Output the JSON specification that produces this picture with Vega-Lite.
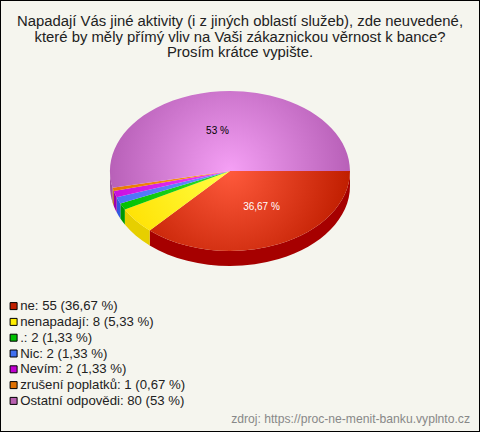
{
"$schema":"https://vega.github.io/schema/vega-lite/v6.json",
"width":480,"height":432,"padding":0,"autosize":"none","background":"#f5f5ee",
"view":{"stroke":"#000000","strokeWidth":2},
"title":{"text":["Napadají Vás jiné aktivity (i z jiných oblastí služeb), zde neuvedené,","které by měly přímý vliv na Vaši zákaznickou věrnost k bance?","Prosím krátce vypište."],"anchor":"middle","frame":"group","offset":-60,"fontSize":14.87,"lineHeight":15.5,"font":"Liberation Sans","fontWeight":"normal","color":"#222222"},
"data":{"values":[
{"odpoved":"ne","pocet":55,"podil":"36,67 %","legenda":"ne: 55 (36,67 %)"},
{"odpoved":"nenapadají","pocet":8,"podil":"5,33 %","legenda":"nenapadají: 8 (5,33 %)"},
{"odpoved":".","pocet":2,"podil":"1,33 %","legenda":".: 2 (1,33 %)"},
{"odpoved":"Nic","pocet":2,"podil":"1,33 %","legenda":"Nic: 2 (1,33 %)"},
{"odpoved":"Nevím","pocet":2,"podil":"1,33 %","legenda":"Nevím: 2 (1,33 %)"},
{"odpoved":"zrušení poplatků","pocet":1,"podil":"0,67 %","legenda":"zrušení poplatků: 1 (0,67 %)"},
{"odpoved":"Ostatní odpovědi","pocet":80,"podil":"53 %","legenda":"Ostatní odpovědi: 80 (53 %)"}
]},
"resolve":{"scale":{"fill":"independent","shape":"independent"},"legend":{"fill":"independent"}},
"layer":[
{"mark":{"type":"point","filled":true,"opacity":1,"size":4,"strokeWidth":0},
 "encoding":{"x":{"value":230},"y":{"value":171},
 "shape":{"field":"odpoved","type":"nominal","legend":null,"scale":{"domain":["ne","nenapadají",".","Nic","Nevím","zrušení poplatků","Ostatní odpovědi"],"range":[
 "M120 0A120 80 0 0 1 -80.3 59.45L-80.3 74.45A120 80 0 0 0 120 15Z",
 "M-80.3 59.45A120 80 0 0 1 -105.16 38.54L-105.16 53.54A120 80 0 0 0 -80.3 74.45Z",
 "M-105.16 38.54A120 80 0 0 1 -109.63 32.54L-109.63 47.54A120 80 0 0 0 -105.16 53.54Z",
 "M-109.63 32.54A120 80 0 0 1 -113.33 26.31L-113.33 41.31A120 80 0 0 0 -109.63 47.54Z",
 "M-113.33 26.31A120 80 0 0 1 -116.23 19.9L-116.23 34.9A120 80 0 0 0 -113.33 41.31Z",
 "M-116.23 19.9A120 80 0 0 1 -117.38 16.63L-117.38 31.63A120 80 0 0 0 -116.23 34.9Z",
 "M-117.38 16.63A120 80 0 0 1 -120 0L-120 15A120 80 0 0 0 -117.38 31.63Z"]}},
 "fill":{"field":"odpoved","type":"nominal","legend":null,"scale":{"domain":["ne","nenapadají",".","Nic","Nevím","zrušení poplatků","Ostatní odpovědi"],"range":["#a60000","#e6cf00","#009900","#3358e0","#9a00b0","#bb6600","#a050a0"]}}}},
{"transform":[{"filter":"datum.odpoved === 'ne'"}],
 "mark":{"type":"point","filled":true,"opacity":1,"size":4,"strokeWidth":0,"shape":"M-120 -80L-120 -80M120 80L120 80M0 0L120 0A120 80 0 0 1 -80.3 59.45Z",
 "fill":{"gradient":"radial","x1":0.5,"y1":0.5,"r1":0,"x2":0.5,"y2":0.5,"r2":0.5,"stops":[{"offset":0,"color":"#ff5a3c"},{"offset":1,"color":"#c01e00"}]}},
 "encoding":{"x":{"value":230},"y":{"value":171}}},
{"transform":[{"filter":"datum.odpoved === 'nenapadají'"}],
 "mark":{"type":"point","filled":true,"opacity":1,"size":4,"strokeWidth":0,"shape":"M-120 -80L-120 -80M120 80L120 80M0 0L-80.3 59.45A120 80 0 0 1 -105.16 38.54Z",
 "fill":{"gradient":"radial","x1":0.5,"y1":0.5,"r1":0,"x2":0.5,"y2":0.5,"r2":0.5,"stops":[{"offset":0,"color":"#ffff44"},{"offset":1,"color":"#ffe000"}]}},
 "encoding":{"x":{"value":230},"y":{"value":171}}},
{"transform":[{"filter":"datum.odpoved === '.'"}],
 "mark":{"type":"point","filled":true,"opacity":1,"size":4,"strokeWidth":0,"shape":"M-120 -80L-120 -80M120 80L120 80M0 0L-105.16 38.54A120 80 0 0 1 -109.63 32.54Z",
 "fill":{"gradient":"radial","x1":0.5,"y1":0.5,"r1":0,"x2":0.5,"y2":0.5,"r2":0.5,"stops":[{"offset":0,"color":"#30e030"},{"offset":1,"color":"#00c000"}]}},
 "encoding":{"x":{"value":230},"y":{"value":171}}},
{"transform":[{"filter":"datum.odpoved === 'Nic'"}],
 "mark":{"type":"point","filled":true,"opacity":1,"size":4,"strokeWidth":0,"shape":"M-120 -80L-120 -80M120 80L120 80M0 0L-109.63 32.54A120 80 0 0 1 -113.33 26.31Z",
 "fill":{"gradient":"radial","x1":0.5,"y1":0.5,"r1":0,"x2":0.5,"y2":0.5,"r2":0.5,"stops":[{"offset":0,"color":"#6a90ff"},{"offset":1,"color":"#4a70f8"}]}},
 "encoding":{"x":{"value":230},"y":{"value":171}}},
{"transform":[{"filter":"datum.odpoved === 'Nevím'"}],
 "mark":{"type":"point","filled":true,"opacity":1,"size":4,"strokeWidth":0,"shape":"M-120 -80L-120 -80M120 80L120 80M0 0L-113.33 26.31A120 80 0 0 1 -116.23 19.9Z",
 "fill":{"gradient":"radial","x1":0.5,"y1":0.5,"r1":0,"x2":0.5,"y2":0.5,"r2":0.5,"stops":[{"offset":0,"color":"#f040f8"},{"offset":1,"color":"#c810e0"}]}},
 "encoding":{"x":{"value":230},"y":{"value":171}}},
{"transform":[{"filter":"datum.odpoved === 'zrušení poplatků'"}],
 "mark":{"type":"point","filled":true,"opacity":1,"size":4,"strokeWidth":0,"shape":"M-120 -80L-120 -80M120 80L120 80M0 0L-116.23 19.9A120 80 0 0 1 -117.38 16.63Z",
 "fill":{"gradient":"radial","x1":0.5,"y1":0.5,"r1":0,"x2":0.5,"y2":0.5,"r2":0.5,"stops":[{"offset":0,"color":"#ff9a20"},{"offset":1,"color":"#e87800"}]}},
 "encoding":{"x":{"value":230},"y":{"value":171}}},
{"transform":[{"filter":"datum.odpoved === 'Ostatní odpovědi'"}],
 "mark":{"type":"point","filled":true,"opacity":1,"size":4,"strokeWidth":0,"shape":"M-120 -80L-120 -80M120 80L120 80M0 0L-117.38 16.63A120 80 0 1 1 120 0Z",
 "fill":{"gradient":"radial","x1":0.5,"y1":0.5,"r1":0,"x2":0.5,"y2":0.5,"r2":0.5,"stops":[{"offset":0,"color":"#f5a0f5"},{"offset":1,"color":"#b860b8"}]}},
 "encoding":{"x":{"value":230},"y":{"value":171}}},
{"transform":[{"filter":"datum.pocet >= 50"}],
 "mark":{"type":"text","font":"Liberation Sans","fontSize":10,"baseline":"middle","align":"center"},
 "encoding":{"text":{"field":"podil"},
 "x":{"field":"odpoved","type":"nominal","axis":null,"scale":{"domain":["ne","Ostatní odpovědi"],"range":[261.5,217.5],"padding":0}},
 "y":{"field":"odpoved","type":"nominal","axis":null,"scale":{"domain":["ne","Ostatní odpovědi"],"range":[207,131],"padding":0}},
 "color":{"field":"odpoved","type":"nominal","legend":null,"scale":{"domain":["ne","Ostatní odpovědi"],"range":["#ffffff","#000000"]}}}},
{"mark":{"type":"point","filled":true,"opacity":1,"size":0,"strokeWidth":0},
 "encoding":{"x":{"value":8},"y":{"value":300},
 "fill":{"field":"legenda","type":"nominal","sort":null,"scale":{"domain":["ne: 55 (36,67 %)","nenapadají: 8 (5,33 %)",".: 2 (1,33 %)","Nic: 2 (1,33 %)","Nevím: 2 (1,33 %)","zrušení poplatků: 1 (0,67 %)","Ostatní odpovědi: 80 (53 %)"],"range":["#c02000","#ffee00","#00c000","#4070f0","#c000d0","#e07000","#b860b0"]},
 "legend":{"title":null,"orient":"none","legendX":7,"legendY":299.5,"symbolType":"square","symbolSize":49,"symbolStrokeColor":"#000000","symbolStrokeWidth":1,"symbolOpacity":1,"labelFont":"Liberation Sans","labelFontSize":13.2,"labelColor":"#222222","labelOffset":0,"rowPadding":1.8,"labelLimit":300,"padding":0}}}},
{"data":{"values":[{"zdroj":"zdroj: https://proc-ne-menit-banku.vyplnto.cz"}]},
 "mark":{"type":"text","font":"Liberation Sans","fontSize":12.15,"align":"right","baseline":"middle","color":"#888888"},
 "encoding":{"text":{"field":"zdroj"},"x":{"value":470},"y":{"value":419}}}
]
}
